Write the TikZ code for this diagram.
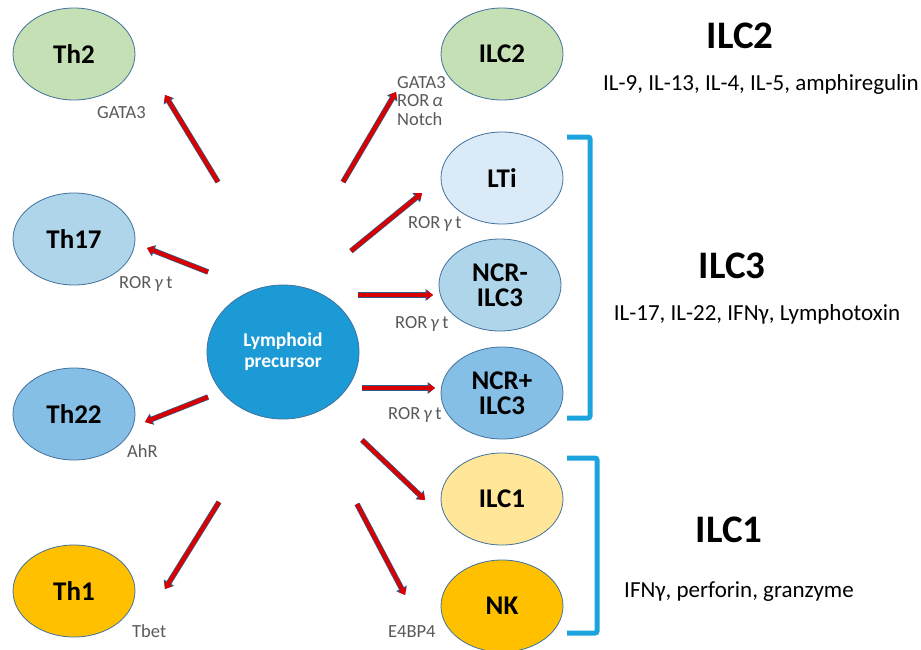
\documentclass[tikz,border=0pt]{standalone}
\usepackage{fontspec}
\setmainfont{Carlito}
\usepackage{tikz}
\usetikzlibrary{positioning, arrows.meta, shapes.geometric}

\definecolor{edgeblue}{HTML}{41719C}
\definecolor{thgreen}{HTML}{C5E0B4}
\definecolor{paleblue}{HTML}{DAEBF7}
\definecolor{lightblue}{HTML}{AFD5EB}
\definecolor{midblue}{HTML}{86BFE6}
\definecolor{lightyellow}{HTML}{FFE699}
\definecolor{gold}{HTML}{FFC000}
\definecolor{precblue}{HTML}{1B9AD6}
\definecolor{bracketblue}{HTML}{1CA3DE}
\definecolor{arrowred}{HTML}{D80000}
\definecolor{arrowedge}{HTML}{2E5C8A}
\definecolor{labelgray}{HTML}{595959}

\begin{document}
\begin{tikzpicture}[x=1pt, y=-1pt,
        cell/.style={ellipse, draw=edgeblue, line width=0.8pt, minimum width=122pt,
            minimum height=92pt, inner sep=0pt, align=center,
            font=\fontsize{27}{25}\selectfont\bfseries},
        tf/.style={inner sep=0pt, text=labelgray, font=\fontsize{18.5}{18.5}\selectfont},
        diff/.style={line width=4pt, draw=arrowred, -{Triangle[width=9pt,length=6pt]},
            preaction={draw=arrowedge, line width=5.5pt, -{Triangle[width=11.5pt,length=7.5pt]}}},
        group/.style={inner sep=0pt, font=\fontsize{39}{39}\selectfont\bfseries},
        cyto/.style={inner sep=0pt, font=\fontsize{23}{24}\selectfont},
        bracket/.style={draw=bracketblue, line width=5pt, rounded corners=2pt}]
    \useasboundingbox (0,0) rectangle (921,649);

    % precursor
    \node[ellipse, fill=precblue, draw=edgeblue, line width=0.8pt, minimum width=152pt,
        minimum height=134pt, inner sep=0pt, align=center, text=white,
        font=\fontsize{19.5}{21}\selectfont\bfseries] (prec) at (283,352) {Lymphoid\\precursor};

    % T helper cells
    \node[cell, fill=thgreen] (th2) at (74,54) {Th2};
    \node[cell, fill=lightblue] (th17) at (74,239) {Th17};
    \node[cell, fill=midblue] (th22) at (74,414) {Th22};
    \node[cell, fill=gold] (th1) at (74,591) {Th1};

    % innate lymphoid cells
    \node[cell, fill=thgreen] (ilc2) at (502,54) {ILC2};
    \node[cell, fill=paleblue] (lti) at (502,178) {LTi};
    \node[cell, fill=lightblue] (ncrm) at (500,285) {NCR-\\ILC3};
    \node[cell, fill=midblue] (ncrp) at (502,393) {NCR+\\ILC3};
    \node[cell, fill=lightyellow] (ilc1) at (502,499) {ILC1};
    \node[cell, fill=gold] (nk) at (502,606) {NK};

    % arrow ends
    \coordinate (from-th2) at (218,182);  \coordinate (to-th2) at (165,95);
    \coordinate (from-th17) at (208,272); \coordinate (to-th17) at (147,248);
    \coordinate (from-th22) at (208,397); \coordinate (to-th22) at (145,422);
    \coordinate (from-th1) at (219,502);  \coordinate (to-th1) at (165,589);
    \coordinate (from-ilc2) at (343,182); \coordinate (to-ilc2) at (396,92);
    \coordinate (from-lti) at (351,251);  \coordinate (to-lti) at (422,193);
    \coordinate (from-ncrm) at (358,295); \coordinate (to-ncrm) at (433,295);
    \coordinate (from-ncrp) at (362,388); \coordinate (to-ncrp) at (435,388);
    \coordinate (from-ilc1) at (362,440); \coordinate (to-ilc1) at (425,500);
    \coordinate (from-nk) at (357,504);   \coordinate (to-nk) at (405,595);

    \draw[diff] (from-th2) -- (to-th2);
    \draw[diff] (from-th17) -- (to-th17);
    \draw[diff] (from-th22) -- (to-th22);
    \draw[diff] (from-th1) -- (to-th1);
    \draw[diff] (from-ilc2) -- (to-ilc2);
    \draw[diff] (from-lti) -- (to-lti);
    \draw[diff] (from-ncrm) -- (to-ncrm);
    \draw[diff] (from-ncrp) -- (to-ncrp);
    \draw[diff] (from-ilc1) -- (to-ilc1);
    \draw[diff] (from-nk) -- (to-nk);

    % transcription factors
    \node[tf, anchor=base west] (tf-th2) at (97,118) {GATA3};
    \node[tf, anchor=base west] (tf-th17) at (119,288) {ROR\,\textit{γ}\,t};
    \node[tf, anchor=base west] (tf-th22) at (127,457) {AhR};
    \node[tf, anchor=base west] (tf-th1) at (132,637) {Tbet};
    \node[tf, anchor=north west, align=left] (tf-ilc2) at (397,76)
        {GATA3\\ROR\,\textit{α}\\Notch};
    \node[tf, anchor=base west] (tf-lti) at (408,228) {ROR\,\textit{γ}\,t};
    \node[tf, anchor=base west] (tf-ncrm) at (395,328) {ROR\,\textit{γ}\,t};
    \node[tf, anchor=base west] (tf-ncrp) at (388,419) {ROR\,\textit{γ}\,t};
    \node[tf, anchor=base west] (tf-nk) at (388,637) {E4BP4};

    % groups
    \draw[bracket] (567,137) -- (590,137) -- (590,418) -- (567,418);
    \draw[bracket] (567,458) -- (597,458) -- (597,633) -- (567,633);

    \node[group, anchor=base] (g-ilc2) at (740,48) {ILC2};
    \node[cyto, anchor=base] (c-ilc2) at (761,90) {IL-9, IL-13, IL-4, IL-5, amphiregulin};
    \node[group, anchor=base] (g-ilc3) at (732,278) {ILC3};
    \node[cyto, anchor=base] (c-ilc3) at (757,320) {IL-17, IL-22, IFNγ, Lymphotoxin};
    \node[group, anchor=base] (g-ilc1) at (729,542) {ILC1};
    \node[cyto, anchor=base] (c-ilc1) at (739,597) {IFNγ, perforin, granzyme};
\end{tikzpicture}
\end{document}
